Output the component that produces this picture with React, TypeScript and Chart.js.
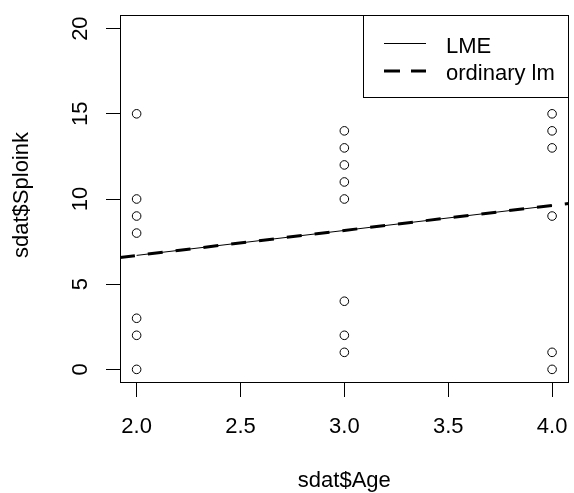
import React, { useEffect, useRef } from "react";
import { Chart, registerables } from "chart.js";

Chart.register(...registerables);

// Data
const ageValues = [2, 2, 2, 2, 2, 2, 2, 3, 3, 3, 3, 3, 3, 3, 3, 4, 4, 4, 4, 4, 4];
const sploinkValues = [15, 10, 9, 8, 3, 2, 0, 14, 13, 12, 11, 10, 4, 2, 1, 15, 14, 13, 9, 1, 0];

const lmeX = [2, 4];
const lmeY = [6.69, 9.62];
const lmX = [1.92, 4.08];
const lmY = [6.57, 9.74];

const xTicks = [2.0, 2.5, 3.0, 3.5, 4.0];
const yTicks = [0, 5, 10, 15, 20];
const xTickLabels = ["2.0", "2.5", "3.0", "3.5", "4.0"];
const yTickLabels = ["0", "5", "10", "15", "20"];

const xTitle = "sdat$Age";
const yTitle = "sdat$Sploink";
const legendLabels = ["LME", "ordinary lm"];

const FONT = "22px 'Liberation Sans', Arial, sans-serif";

const rPlotPlugin = {
  id: "rplot",
  afterDraw(chart: any) {
    const ctx = chart.ctx;
    const area = chart.chartArea;
    const xs = chart.scales.x;
    const ys = chart.scales.y;
    ctx.save();
    // box
    ctx.strokeStyle = "#000";
    ctx.lineWidth = 1;
    ctx.strokeRect(Math.round(area.left) + 0.5, Math.round(area.top) + 0.5, Math.round(area.right - area.left) - 1, Math.round(area.bottom - area.top) - 1);

    ctx.fillStyle = "#000";
    ctx.font = FONT;
    // x tick labels
    ctx.textAlign = "center";
    ctx.textBaseline = "alphabetic";
    xTicks.forEach((v, i) => {
      ctx.fillText(xTickLabels[i], xs.getPixelForValue(v), area.bottom + 50);
    });
    // y tick labels (rotated)
    yTicks.forEach((v, i) => {
      ctx.save();
      ctx.translate(area.left - 33, ys.getPixelForValue(v));
      ctx.rotate(-Math.PI / 2);
      ctx.textAlign = "center";
      ctx.fillText(yTickLabels[i], 0, 0);
      ctx.restore();
    });
    // axis titles
    ctx.textAlign = "center";
    ctx.fillText(xTitle, (area.left + area.right) / 2, area.bottom + 104);
    ctx.save();
    ctx.translate(area.left - 92, (area.top + area.bottom) / 2 - 4);
    ctx.rotate(-Math.PI / 2);
    ctx.fillText(yTitle, 0, 0);
    ctx.restore();

    // legend
    const lw = 206;
    const lh = 83;
    const lx = Math.round(area.right - lw);
    const ly = Math.round(area.top);
    ctx.fillStyle = "#fff";
    ctx.fillRect(lx, ly, lw, lh);
    ctx.strokeStyle = "#000";
    ctx.lineWidth = 1;
    ctx.strokeRect(lx + 0.5, ly + 0.5, lw - 1, lh - 1);
    ctx.beginPath();
    ctx.moveTo(lx + 21, ly + 28.5);
    ctx.lineTo(lx + 63, ly + 28.5);
    ctx.stroke();
    ctx.lineWidth = 3;
    ctx.setLineDash([16, 11]);
    ctx.beginPath();
    ctx.moveTo(lx + 21, ly + 56);
    ctx.lineTo(lx + 63, ly + 56);
    ctx.stroke();
    ctx.setLineDash([]);
    ctx.fillStyle = "#000";
    ctx.textAlign = "left";
    ctx.fillText(legendLabels[0], lx + 83, ly + 38);
    ctx.fillText(legendLabels[1], lx + 83, ly + 65);
    ctx.restore();
  },
};

export default function App() {
  const ref = useRef<HTMLCanvasElement>(null);
  useEffect(() => {
    document.body.style.margin = "0";
    const chart = new Chart(ref.current!, {
      type: "scatter",
      data: {
        datasets: [
          {
            type: "line",
            label: legendLabels[1],
            data: lmX.map((x, i) => ({ x, y: lmY[i] })),
            borderColor: "#000",
            borderWidth: 3,
            borderDash: [15, 13],
            pointRadius: 0,
            fill: false,
            tension: 0,
          } as any,
          {
            type: "line",
            label: legendLabels[0],
            data: lmeX.map((x, i) => ({ x, y: lmeY[i] })),
            borderColor: "#000",
            borderWidth: 1,
            pointRadius: 0,
            fill: false,
            tension: 0,
          } as any,
          {
            label: "points",
            data: ageValues.map((x, i) => ({ x, y: sploinkValues[i] })),
            pointStyle: "circle",
            pointRadius: 4.3,
            pointBorderColor: "#000",
            pointBackgroundColor: "rgba(0,0,0,0)",
            pointBorderWidth: 1,
            showLine: false,
          } as any,
        ],
      },
      options: {
        animation: false,
        responsive: false,
        devicePixelRatio: 1,
        layout: { padding: { top: 15, right: 2, left: 0, bottom: 0 } },
        plugins: { legend: { display: false }, tooltip: { enabled: false } },
        scales: {
          x: {
            type: "linear",
            min: 1.92,
            max: 4.08,
            afterBuildTicks: (s: any) => {
              s.ticks = xTicks.map((v) => ({ value: v }));
            },
            afterFit: (s: any) => {
              s.height = 110;
            },
            ticks: { display: false },
            border: { display: false },
            grid: { drawOnChartArea: false, drawTicks: true, tickLength: 14, tickColor: "#000", tickWidth: 1 },
          },
          y: {
            type: "linear",
            min: -0.8,
            max: 20.8,
            afterBuildTicks: (s: any) => {
              s.ticks = yTicks.map((v) => ({ value: v }));
            },
            afterFit: (s: any) => {
              s.width = 120;
            },
            ticks: { display: false },
            border: { display: false },
            grid: { drawOnChartArea: false, drawTicks: true, tickLength: 14, tickColor: "#000", tickWidth: 1 },
          },
        },
      },
      plugins: [rPlotPlugin],
    });
    return () => chart.destroy();
  }, []);
  return (
    <div style={{ width: 574, height: 493, background: "#fff" }}>
      <canvas ref={ref} width={574} height={493} />
    </div>
  );
}
